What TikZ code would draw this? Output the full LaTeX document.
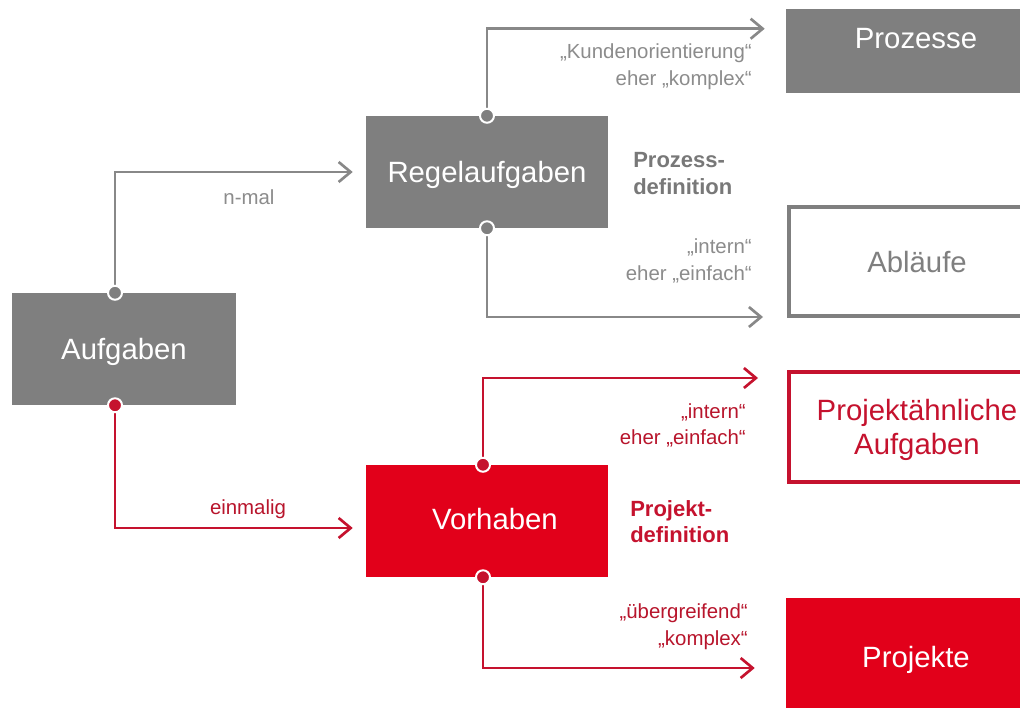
\documentclass[tikz,border=0pt]{standalone}
\usepackage{fontspec}
\setmainfont{Liberation Sans}
\usetikzlibrary{arrows.meta}
\definecolor{boxgray}{HTML}{7F7F7F}
\definecolor{linegray}{HTML}{888888}
\definecolor{txtgray}{HTML}{8C8C8C}
\definecolor{boldgray}{HTML}{787878}
\definecolor{boxred}{HTML}{E2001A}
\definecolor{linered}{HTML}{C5122E}
\definecolor{txtred}{HTML}{B8152C}
\begin{document}
\begin{tikzpicture}[x=0.75pt,y=-0.75pt,
  box/.style={rectangle, inner sep=0pt, text depth=0pt, font=\fontsize{22}{25}\selectfont, align=center},
  gbox/.style={box, fill=boxgray, text=white},
  rbox/.style={box, fill=boxred, text=white},
  gobox/.style={box, draw=boxgray, line width=3pt, text=boxgray},
  robox/.style={box, draw=linered, line width=3pt, text=linered},
  gline/.style={draw=linegray, line width=2pt, -{Straight Barb[length=9pt,width=15pt]}},
  rline/.style={draw=linered, line width=2pt, -{Straight Barb[length=9pt,width=15pt]}},
  dotg/.style={circle, fill=boxgray, draw=white, line width=1.5pt, inner sep=0pt, minimum size=10.5pt},
  dotr/.style={circle, fill=linered, draw=white, line width=1.5pt, inner sep=0pt, minimum size=10.5pt},
  lblg/.style={font=\fontsize{15.3}{20}\selectfont, align=right, anchor=east, inner sep=0pt, text=txtgray},
  lblr/.style={font=\fontsize{15.3}{20}\selectfont, align=right, anchor=east, inner sep=0pt, text=txtred},
  boldg/.style={font=\bfseries\fontsize{16.5}{20}\selectfont, align=left, anchor=west, inner sep=0pt, text=boldgray},
  boldr/.style={font=\bfseries\fontsize{16.5}{20}\selectfont, align=left, anchor=west, inner sep=0pt, text=linered},
]
\clip (0,0) rectangle (1020,707);
\fill[white] (0,0) rectangle (1020,707);

% boxes
\node[gbox, minimum width=168pt, minimum height=84pt] (auf) at (124,349) {Aufgaben};
\node[gbox, minimum width=181.5pt, minimum height=84pt] (regel) at (487,172) {Regelaufgaben};
\node[rbox, minimum width=181.5pt, minimum height=84pt, text depth=3pt] (vorh) at (487,521) {\hspace*{12pt}Vorhaben};
\node[gbox, minimum width=195pt, minimum height=63pt, text depth=19.5pt] (proz) at (916,51) {Prozesse};
\node[gobox, minimum width=192pt, minimum height=81.75pt] (abl) at (917,261.5) {Abläufe};
\node[robox, minimum width=192pt, minimum height=82.5pt] (pah) at (917,427) {Projektähnliche\\Aufgaben};
\node[rbox, minimum width=195pt, minimum height=88.5pt] (proj) at (916,657) {Projekte};

% connectors
\draw[gline] ([xshift=-6.75pt]auf.north) |- ([xshift=-9.75pt]regel.west);
\draw[gline] (regel.north) |- ([xshift=-15.75pt,yshift=-15pt]proz.north west);
\draw[gline] (regel.south) |- ([xshift=-18pt,yshift=0.75pt]abl.south west);
\draw[rline] ([xshift=-6.75pt]auf.south) |- ([xshift=-9.75pt,yshift=-5.25pt]vorh.west);
\draw[rline] ([xshift=-3pt]vorh.north) |- ([xshift=-21.75pt,yshift=-6pt]pah.north west);
\draw[rline] ([xshift=-3pt]vorh.south) |- ([xshift=-23.25pt,yshift=-8.25pt]proj.west);

% dots
\node[dotg] (d1) at ([xshift=-6.75pt]auf.north) {};
\node[dotr] (d2) at ([xshift=-6.75pt]auf.south) {};
\node[dotg] (d3) at (regel.north) {};
\node[dotg] (d4) at (regel.south) {};
\node[dotr] (d5) at ([xshift=-3pt]vorh.north) {};
\node[dotr] (d6) at ([xshift=-3pt]vorh.south) {};

% labels
\node[lblg, anchor=center] (l1) at (249,197) {n-mal};
\node[lblr, anchor=center] (l2) at (248,509) {einmalig};
\node[lblg] (l3) at (752,67) {„Kundenorientierung“\\eher „komplex“};
\node[lblg] (l4) at (752,261) {„intern“\\eher „einfach“};
\node[lblr] (l5) at (746,425.5) {„intern“\\eher „einfach“};
\node[lblr] (l6) at (748,626.5) {„übergreifend“\\„komplex“};
\node[boldg] (b1) at (633,173.5) {Prozess-\\definition};
\node[boldr] (b2) at (630,521.5) {Projekt-\\definition};
\end{tikzpicture}
\end{document}
